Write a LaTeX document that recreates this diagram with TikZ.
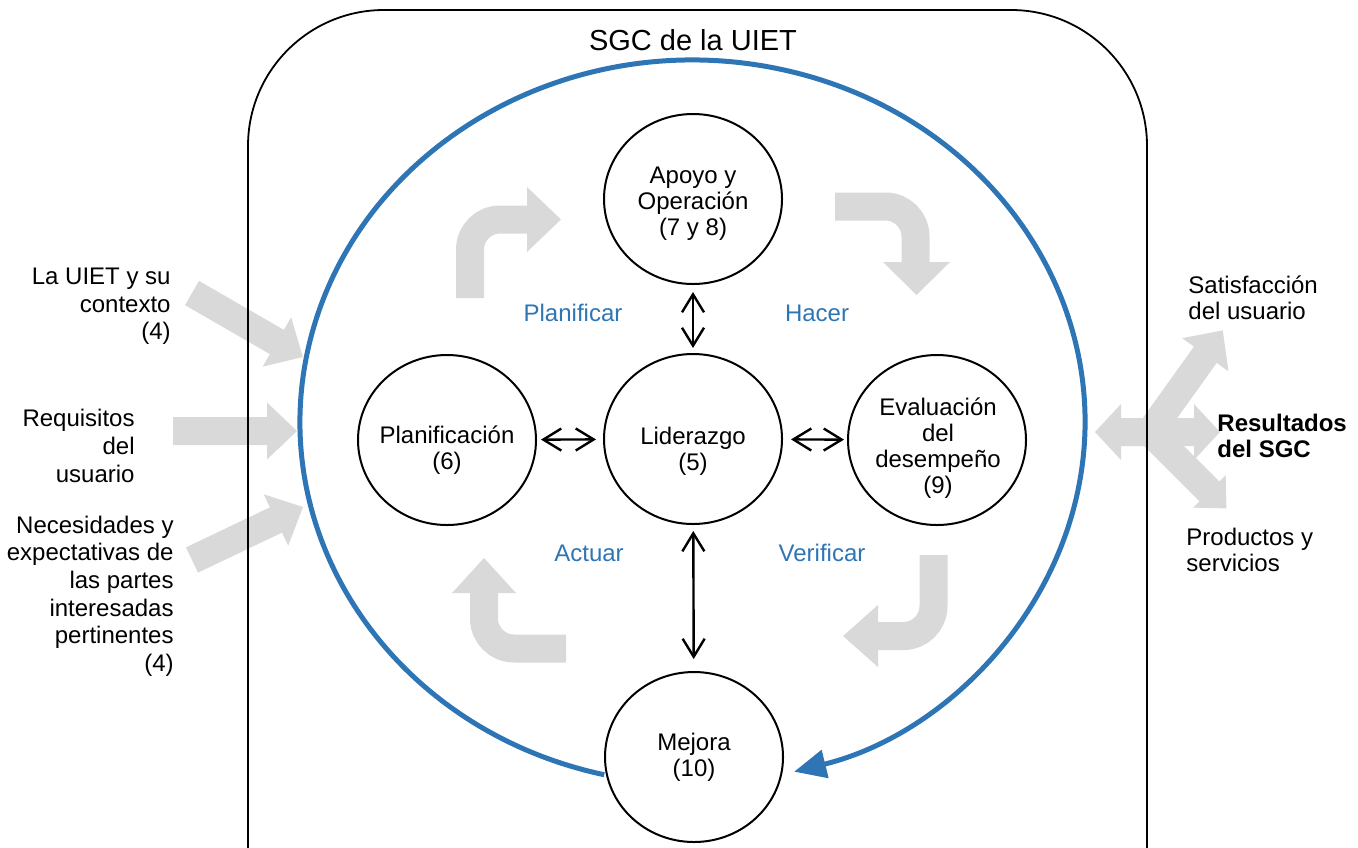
\documentclass[tikz,border=0pt]{standalone}
\usepackage{fontspec}
\setmainfont{Liberation Sans}
\usetikzlibrary{arrows.meta,shapes.geometric}
\definecolor{sgcblue}{RGB}{46,117,182}
\definecolor{grayfill}{RGB}{217,217,217}
\newcommand\blockarrow[6]{%
  \fill[grayfill,shift={(#1,#2)},rotate=#3] (0,-14) -- ({#4-#6},-14) -- ({#4-#6},{-#5/2}) -- (#4,0) -- ({#4-#6},{#5/2}) -- ({#4-#6},14) -- (0,14) -- cycle;}
\begin{document}
\begin{tikzpicture}[x=0.5pt,y=-0.5pt,
  circ/.style={draw=black, line width=1pt, fill=white, ellipse, minimum width=89pt, minimum height=85pt, inner sep=0pt},
  lbl/.style={font=\fontsize{12}{13}\selectfont, align=center, inner sep=0pt},
  lefttext/.style={font=\fontsize{12}{13.8}\selectfont, align=right, anchor=east, inner sep=0pt},
  righttext/.style={font=\fontsize{12}{13}\selectfont, align=left, anchor=west, inner sep=0pt},
  phase/.style={text=sgcblue, font=\fontsize{12}{13}\selectfont, inner sep=0pt},
  dbl/.style={{Straight Barb[length=9pt,width=11pt]}-{Straight Barb[length=9pt,width=11pt]}, line width=1.2pt},
  bendarrow/.style={draw=grayfill, line width=14pt, rounded corners=15pt},
  headfill/.style={fill=grayfill},
]
\useasboundingbox (0,0) rectangle (1358,847);
\clip (0,0) rectangle (1358,847);

% input arrows (left)
\blockarrow{192}{293}{-30}{128}{57}{30}
\blockarrow{173}{431}{0}{124}{57}{30}
\blockarrow{192}{560}{25.5}{123}{57}{30}

% output arrows (right)
\fill[grayfill] (1095,432) -- (1121,404) -- (1121,418) -- (1194,418) -- (1194,404) -- (1220,432) -- (1194,460) -- (1194,446) -- (1121,446) -- (1121,460) -- cycle;
\blockarrow{1150}{432}{54.4}{125}{57}{30}
\blockarrow{1150}{432}{-45}{108}{46}{24}

% bent PDCA arrows
\draw[bendarrow] (470,298) -- (470,219.5) -- (527,219.5);
\fill[headfill] (527,187) -- (561,219.5) -- (527,252) -- cycle;
\draw[bendarrow] (835,206.5) -- (915.5,206.5) -- (915.5,262);
\fill[headfill] (883,262) -- (950,262) -- (916.5,295) -- cycle;
\draw[bendarrow] (933.5,555) -- (933.5,636) -- (878,636);
\fill[headfill] (878,605) -- (843,636) -- (878,667) -- cycle;
\draw[bendarrow] (566,648.5) -- (484,648.5) -- (484,593);
\fill[headfill] (452,593) -- (484,558) -- (516,593) -- cycle;

% outer rounded frame
\draw[line width=0.9pt, rounded corners=68pt] (248,10) rectangle (1147,1000);
\node[font=\fontsize{14.5}{17}\selectfont] (title) at (693,40) {SGC de la UIET};

% blue cycle
\coordinate (cc) at (692.5,422);
\draw[sgcblue, line width=2.5pt, -{Triangle[length=16pt,width=14pt]}] (cc) ++(257:196.25pt and 181pt) arc[start angle=257, end angle=-75, x radius=196.25pt, y radius=181pt];

% process circles
\node[circ] (apoyo) at (693,199) {};
\node[circ] (lid) at (693,439) {};
\node[circ] (plan) at (447,440) {};
\node[circ] (eval) at (937,440) {};
\node[circ] (mej) at (694,757) {};

\node[lbl] (apoyoT) at (693,204) {Apoyo y\\Operación\\(7 y 8)};
\node[lbl] (lidT) at (693,451) {Liderazgo\\(5)};
\node[lbl] (planT) at (447,450) {Planificación\\(6)};
\node[lbl] (evalT) at (938,448) {Evaluación\\del\\desempeño\\(9)};
\node[lbl] (mejT) at (694,757) {Mejora\\(10)};

% links
\draw[dbl, shorten <=3.5pt, shorten >=2.5pt] (apoyo) -- (lid);
\draw[dbl, shorten <=2pt, shorten >=3.5pt] (plan) -- (lid);
\draw[dbl, shorten <=4pt, shorten >=1.5pt] (lid) -- (eval);
\draw[dbl, shorten <=3pt, shorten >=6pt] (lid) -- (mej);

% PDCA labels
\node[phase] (pl) at (573,313) {Planificar};
\node[phase] (ha) at (817,313) {Hacer};
\node[phase] (ac) at (589,553) {Actuar};
\node[phase] (ve) at (822,553) {Verificar};

% side texts
\node[lefttext] (ctx) at (171,306.5) {La UIET y su\\contexto\\(4)};
\node[lefttext] (req) at (135,446) {Requisitos\\del\\usuario};
\node[lefttext] (nec) at (174,596) {Necesidades y\\expectativas de\\las partes\\interesadas\\pertinentes\\(4)};
\node[righttext] (sat) at (1188,298) {Satisfacción\\del usuario};
\node[righttext, font=\fontsize{12}{13}\selectfont\bfseries] (res) at (1217,436) {Resultados\\del SGC};
\node[righttext] (prod) at (1186,550) {Productos y\\servicios};
\end{tikzpicture}
\end{document}
